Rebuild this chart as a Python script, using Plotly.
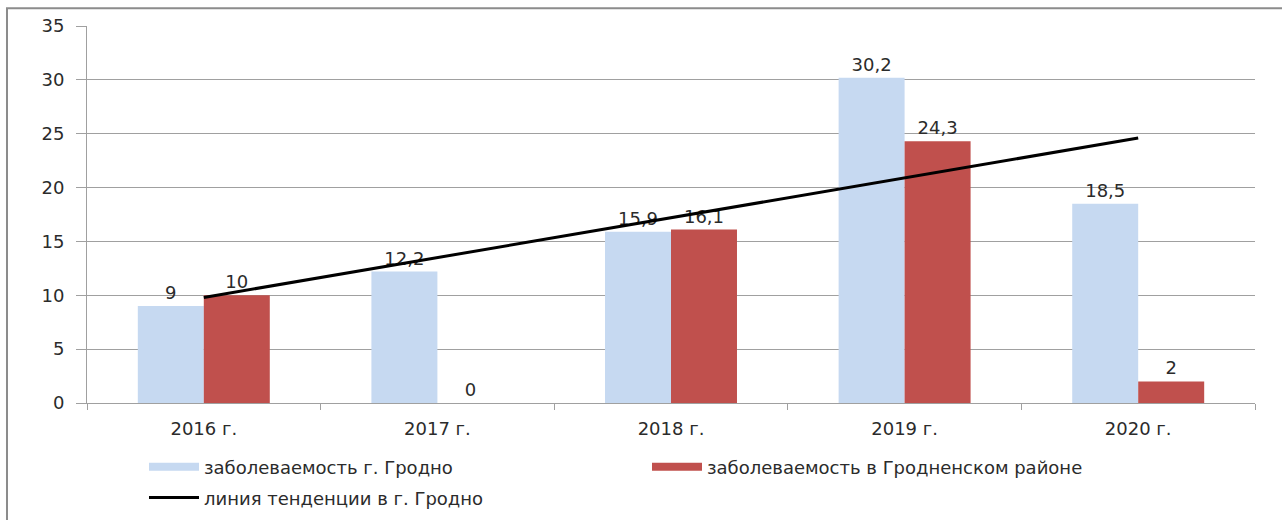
import plotly.graph_objects as go

# Годы наблюдения
years = ["2016 г.", "2017 г.", "2018 г.", "2019 г.", "2020 г."]

# Заболеваемость, г. Гродно
grodno = [9, 12.2, 15.9, 30.2, 18.5]

# Заболеваемость, Гродненский район
district = [10, 0, 16.1, 24.3, 2]

# Линия тенденции для г. Гродно (начальная и конечная точки)
trend_years = ["2016 г.", "2020 г."]
trend_vals = [9.8, 24.6]

y_ticks = [0, 5, 10, 15, 20, 25, 30, 35]

names = ["заболеваемость г. Гродно",
         "заболеваемость в Гродненском районе",
         "линия тенденции в г. Гродно"]

FONT = "DejaVu Sans"
TXT = "#2b2b2b"
GRID = "#a0a0a0"
BLUE = "#C6D9F1"
RED = "#C0504D"
FS = 18


def fmt(v):
    return f"{v:g}".replace(".", ",")


fig = go.Figure()

fig.add_trace(go.Bar(
    x=years, y=grodno, name=names[0], showlegend=False,
    marker=dict(color=BLUE, line=dict(width=0)),
    text=[fmt(v) for v in grodno], textposition="outside",
    textfont=dict(family=FONT, size=FS, color=TXT),
    cliponaxis=False,
))
fig.add_trace(go.Bar(
    x=years, y=district, name=names[1], showlegend=False,
    marker=dict(color=RED, line=dict(width=0)),
    text=[fmt(v) for v in district], textposition="outside",
    textfont=dict(family=FONT, size=FS, color=TXT),
    cliponaxis=False,
))
fig.add_trace(go.Scatter(
    x=trend_years, y=trend_vals, mode="lines",
    name=names[2], showlegend=False,
    line=dict(color="black", width=3),
))

# Legend keys: wide flat swatches for the bar series, a line for the trend
for nm, col, w, lg in [(names[0], BLUE, 8, "legend"),
                       (names[1], RED, 8, "legend"),
                       (names[2], "black", 3, "legend2")]:
    fig.add_trace(go.Scatter(
        x=[None], y=[None], mode="lines", name=nm,
        line=dict(color=col, width=w), legend=lg, hoverinfo="skip",
    ))

fig.update_layout(
    width=1282, height=520,
    margin=dict(l=87, r=27, t=26, b=117, autoexpand=False),
    paper_bgcolor="white", plot_bgcolor="white",
    font=dict(family=FONT, size=FS, color=TXT),
    barmode="group", bargap=0.435, bargroupgap=0,
    showlegend=True,
    legend=dict(
        orientation="h", x=0.0488, y=-0.1205, xanchor="left", yanchor="top",
        entrywidth=438, entrywidthmode="pixels", itemwidth=50,
        font=dict(family=FONT, size=FS, color=TXT),
        bgcolor="rgba(0,0,0,0)", itemclick=False, itemdoubleclick=False,
    ),
    legend2=dict(
        orientation="h", x=0.0488, y=-0.2026, xanchor="left", yanchor="top",
        itemwidth=50,
        font=dict(family=FONT, size=FS, color=TXT),
        bgcolor="rgba(0,0,0,0)", itemclick=False, itemdoubleclick=False,
    ),
    xaxis=dict(
        type="category", tickson="boundaries",
        ticks="outside", ticklen=6, tickcolor=GRID,
        showline=True, linecolor=GRID, linewidth=1,
        showgrid=False, ticklabelstandoff=9,
        tickfont=dict(family=FONT, size=FS, color=TXT),
    ),
    yaxis=dict(
        range=[0, 35], tickvals=y_ticks,
        ticks="outside", ticklen=10, tickcolor=GRID,
        showline=True, linecolor=GRID, linewidth=1,
        showgrid=True, gridcolor=GRID, gridwidth=1,
        zeroline=False, ticklabelstandoff=8,
        tickfont=dict(family=FONT, size=FS, color=TXT),
    ),
    shapes=[dict(
        type="rect", xref="paper", yref="paper",
        x0=-0.0685, x1=1.1, y0=-0.5, y1=1.047,
        line=dict(color="#8c8c8c", width=2), layer="below",
    )],
)

fig.write_html("out.html")
